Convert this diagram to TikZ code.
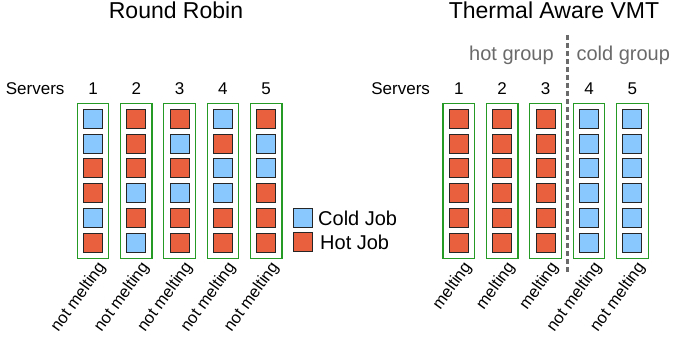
\documentclass[tikz,border=0pt]{standalone}
\usepackage{fontspec}
\setmainfont{Liberation Sans}
\definecolor{coldblue}{HTML}{88C8FF}
\definecolor{hotred}{HTML}{E9603F}
\definecolor{srvgreen}{HTML}{259B25}
\definecolor{grptext}{HTML}{6A6A6A}
\tikzset{
	srvbox/.style={draw=srvgreen, line width=1.2pt, minimum width=31.5pt, minimum height=155pt, inner sep=0},
	job/.style={draw=black!85, line width=0.9pt, minimum size=19pt, inner sep=0},
	cold/.style={job, fill=coldblue},
	hot/.style={job, fill=hotred},
	srvnum/.style={font=\fontsize{17}{20}\selectfont, anchor=base},
	lbl/.style={font=\fontsize{16.5}{19}\selectfont, rotate=54, anchor=base east, inner sep=0},
}
\begin{document}
\begin{tikzpicture}[x=1pt,y=-1pt]
	\useasboundingbox (0,0) rectangle (673,345);
	% titles
	\node[font=\fontsize{23}{26}\selectfont, anchor=base] (rrtitle) at (176,19) {Round Robin};
	\node[font=\fontsize{23}{26}\selectfont, anchor=base] (vmttitle) at (554,19) {Thermal Aware VMT};
	\node[font=\fontsize{17}{20}\selectfont, anchor=base east] (rrsrv) at (68,95) {Servers};
	\node[font=\fontsize{17}{20}\selectfont, anchor=base east] (vmtsrv) at (433.5,95) {Servers};
	% round robin
	\foreach \i/\x/\jobs in {1/93/{cold,cold,hot,hot,cold,hot}, 2/136.3/{hot,hot,hot,cold,hot,cold},
			3/179.6/{hot,cold,hot,cold,hot,hot}, 4/222.9/{cold,hot,cold,cold,hot,hot},
			5/266.2/{hot,cold,cold,hot,hot,hot}} {
		\node[srvbox] (rr\i) at (\x,181) {};
		\node[srvnum] (rrn\i) at (\x,95) {\i};
		\foreach \s [count=\j] in \jobs
			\node[\s] (rr\i-\j) at (\x,{118.8+24.8*(\j-1)}) {};
		\node[lbl] (rrl\i) at ({\x+13},267) {not melting};
	}
	% thermal aware
	\foreach \i/\x/\jobs/\txt in {1/458.8/hot/melting, 2/502.2/hot/melting, 3/545.6/hot/melting,
			4/589/cold/not melting, 5/632.4/cold/not melting} {
		\node[srvbox] (vmt\i) at (\x,181) {};
		\node[srvnum] (vmtn\i) at (\x,95) {\i};
		\foreach \j in {1,...,6}
			\node[\jobs] (vmt\i-\j) at (\x,{118.8+24.8*(\j-1)}) {};
		\node[lbl] (vmtl\i) at ({\x+13},267) {\txt};
	}
	% groups
	\node[font=\fontsize{20}{23}\selectfont, text=grptext, anchor=base] (hotgrp) at (511.5,60.7) {hot group};
	\node[font=\fontsize{20}{23}\selectfont, text=grptext, anchor=base] (coldgrp) at (623.3,60.7) {cold group};
	\coordinate (dtop) at (567.3,35);
	\coordinate (dbot) at (567.3,273);
	\draw[grptext, line width=2.5pt, dash pattern=on 5pt off 3pt] (dtop) -- (dbot);
	% legend
	\node[cold] (cj) at (303.4,218.2) {};
	\node[hot] (hj) at (303.4,242) {};
	\node[font=\fontsize{20}{23}\selectfont, anchor=base west, inner sep=0] (cjt) at (318,225) {Cold Job};
	\node[font=\fontsize{20}{23}\selectfont, anchor=base west, inner sep=0] (hjt) at (320,249) {Hot Job};
\end{tikzpicture}
\end{document}
